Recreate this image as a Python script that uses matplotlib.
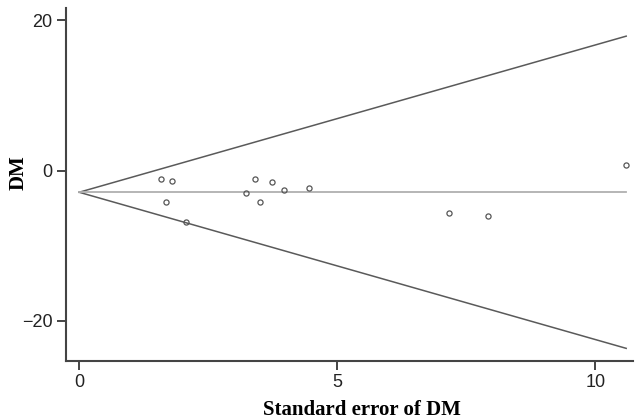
import numpy as np
import matplotlib.pyplot as plt

# funnel plot data (standard error vs DM)
se = [1.58, 1.80, 1.68, 2.07, 3.23, 3.41, 3.50, 3.74, 3.97, 4.46, 7.16, 7.93, 10.60]
dm = [-1.14, -1.33, -4.12, -6.78, -3.01, -1.06, -4.12, -1.55, -2.52, -2.35, -5.67, -6.02, 0.80]
pooled = -2.87
se_max = 10.6

fig = plt.figure(figsize=(6.35, 4.2), dpi=100)
ax = fig.add_axes([0.1035, 0.141, 0.894, 0.839])

# pseudo 95% limits
s = np.array([0, se_max])
ax.plot(s, pooled + 1.96 * s, color='#5a5a5a', lw=1.1)
ax.plot(s, pooled - 1.96 * s, color='#5a5a5a', lw=1.1)
ax.plot(s, [pooled, pooled], color='#b0b0b0', lw=1.3)

ax.plot(se, dm, 'o', mfc='none', mec='#555555', mew=0.9, ms=3.7, ls='none')

ax.set_xlim(-0.26, 10.74)
ax.set_ylim(-25.3, 21.6)
ax.set_xticks([0, 5, 10])
ax.set_yticks([-20, 0, 20])
ax.set_yticklabels(['\u221220', '0', '20'])

for side in ['top', 'right']:
    ax.spines[side].set_visible(False)
for side in ['left', 'bottom']:
    ax.spines[side].set_color('#444444')
    ax.spines[side].set_linewidth(1.5)

ax.tick_params(colors='#444444', width=1.4, length=6.2, pad=3.5, labelsize=13, labelcolor='#222222')
for lab in ax.get_xticklabels() + ax.get_yticklabels():
    lab.set_family('Liberation Sans')

ax.set_xlabel('Standard error of DM', family='Liberation Serif', fontweight='bold', fontsize=15)
ax.set_ylabel('DM', family='Liberation Serif', fontweight='bold', fontsize=15)
ax.xaxis.set_label_coords(0.522, -0.112)
ax.yaxis.set_label_coords(-0.066, 0.534)

fig.savefig('out.png', dpi=100)
